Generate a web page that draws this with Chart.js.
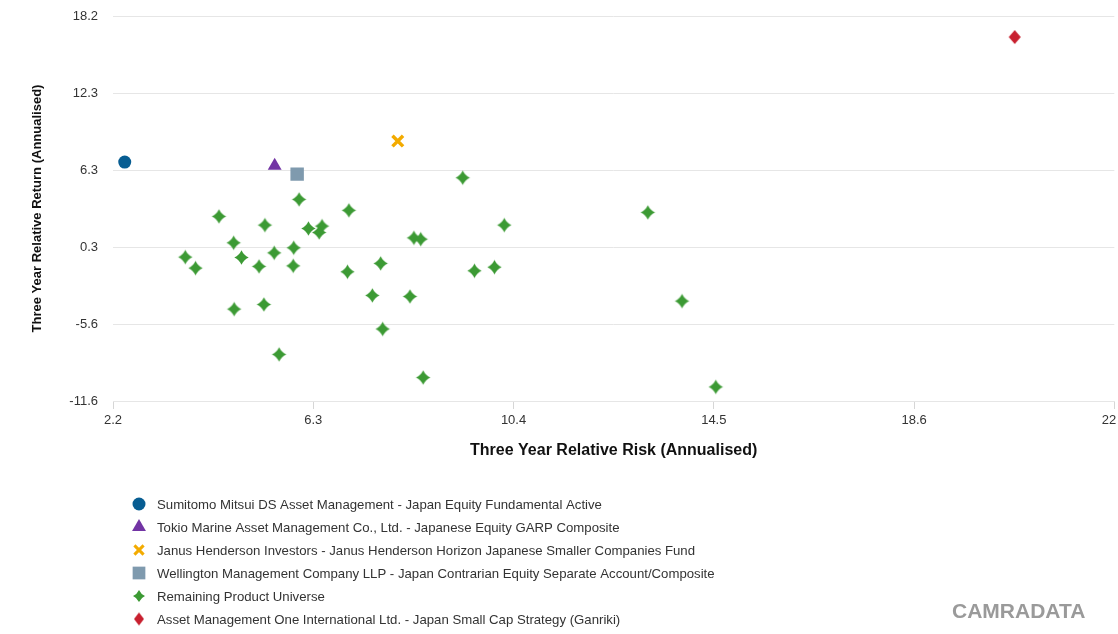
<!DOCTYPE html>
<html>
<head>
<meta charset="utf-8">
<title>Three Year Relative Risk vs Return</title>
<script src="https://cdn.jsdelivr.net/npm/chart.js@4.4.1/dist/chart.umd.min.js"></script>
<style>
  html, body { margin: 0; padding: 0; background: #fff; overflow: hidden; }
  #wrap { position: relative; width: 1116px; height: 634px; overflow: hidden; }
  #brand {
    position: absolute; left: 952px; top: 600px;
    font: bold 21px 'Liberation Sans', Arial, sans-serif; line-height: 21px;
    color: #9a9a9a;
  }
</style>
</head>
<body>
<div id="wrap">
  <canvas id="chart" width="1131" height="634"></canvas>
  <div id="brand">CAMRADATA</div>
</div>
<script>
'use strict';

//Axis ticks
let xTicks = [2.2, 6.3, 10.4, 14.5, 18.6, 22.7];
let yTicks = [-11.6, -5.634, 0.332, 6.298, 12.264, 18.23];

//Series names
let names = [
  'Sumitomo Mitsui DS Asset Management - Japan Equity Fundamental Active',
  'Tokio Marine Asset Management Co., Ltd. - Japanese Equity GARP Composite',
  'Janus Henderson Investors - Janus Henderson Horizon Japanese Smaller Companies Fund',
  'Wellington Management Company LLP - Japan Contrarian Equity Separate Account/Composite',
  'Remaining Product Universe',
  'Asset Management One International Ltd. - Japan Small Cap Strategy (Ganriki)'
];

//Single products: [risk, return]
let sumitomo = [[2.44, 6.91]];
let tokio = [[5.51, 6.63]];
let janus = [[8.03, 8.54]];
let wellington = [[5.97, 5.98]];
let amOne = [[20.66, 16.6]];

//Remaining universe
let universeRisk = [6.01, 4.37, 7.03, 5.31, 6.20, 6.48, 6.42, 4.67, 5.90, 5.50, 3.68,
  4.83, 3.89, 5.19, 5.89, 7.00, 7.68, 7.51, 5.29, 4.68, 7.72, 5.60, 9.36, 13.15,
  10.21, 8.36, 8.50, 9.60, 10.01, 8.28, 13.85, 8.55, 14.54];
let universeReturn = [4.02, 2.70, 3.17, 2.03, 1.77, 1.95, 1.46, 0.66, 0.27, -0.12, -0.45,
  -0.48, -1.30, -1.17, -1.13, -1.59, -0.94, -3.42, -4.12, -4.48, -6.02, -7.99, 5.70, 3.01,
  2.03, 1.04, 0.94, -1.51, -1.23, -3.50, -3.86, -9.78, -10.51];

//Helper to turn pairs into points
function toPoints(pairs) {
  return pairs.map(p => ({ x: p[0], y: p[1] }));
}

let universe = [];
for (let i = 0; i < universeRisk.length; i++) {
  universe.push({ x: universeRisk[i], y: universeReturn[i] });
}

//Custom marker: four point star with curved sides
function makeStar(color, r) {
  let size = Math.ceil(r * 2 + 2);
  let c = document.createElement('canvas');
  c.width = size;
  c.height = size;
  let g = c.getContext('2d');
  g.fillStyle = color;
  let cx = size / 2, cy = size / 2, k = r * 0.31;
  g.beginPath();
  g.moveTo(cx, cy - r);
  g.quadraticCurveTo(cx + k, cy - k, cx + r, cy);
  g.quadraticCurveTo(cx + k, cy + k, cx, cy + r);
  g.quadraticCurveTo(cx - k, cy + k, cx - r, cy);
  g.quadraticCurveTo(cx - k, cy - k, cx, cy - r);
  g.closePath();
  g.fill();
  return c;
}

//Custom marker: tall diamond
function makeDiamond(color, w, h) {
  let c = document.createElement('canvas');
  c.width = w + 2;
  c.height = h + 2;
  let g = c.getContext('2d');
  g.fillStyle = color;
  g.beginPath();
  g.moveTo(1 + w / 2, 1);
  g.lineTo(1 + w, 1 + h / 2);
  g.lineTo(1 + w / 2, 1 + h);
  g.lineTo(1, 1 + h / 2);
  g.closePath();
  g.fill();
  return c;
}

let starImg = makeStar('#3c9a34', 7.2);
let starLegend = makeStar('#3c9a34', 6);
let diamondImg = makeDiamond('#c8202f', 12, 14);
let diamondLegend = makeDiamond('#c8202f', 10, 13);

Chart.defaults.font.family = "'Liberation Sans', Arial, sans-serif";
Chart.defaults.color = '#333';

//Legend drawn as one item per row under the plot
const rowLegend = {
  id: 'rowLegend',
  afterDraw(chart) {
    const ctx = chart.ctx;
    ctx.save();
    ctx.font = "13.2px 'Liberation Sans', Arial, sans-serif";
    ctx.textBaseline = 'middle';
    chart.data.datasets.forEach((ds, i) => {
      let y = 504 + i * 23;
      let opts = {
        pointStyle: ds.legendStyle || ds.pointStyle,
        radius: ds.legendRadius,
        rotation: 0,
        borderWidth: ds.legendBorder || 0
      };
      ctx.fillStyle = ds.backgroundColor;
      ctx.strokeStyle = ds.borderColor;
      ctx.lineWidth = ds.legendBorder || 0;
      Chart.helpers.drawPoint(ctx, opts, 139, y);
      ctx.fillStyle = '#333';
      ctx.fillText(ds.label, 157, y + 1);
    });
    ctx.restore();
  }
};

let ctx = document.getElementById('chart').getContext('2d');

const chart = new Chart(ctx, {
  type: 'scatter',
  data: {
    datasets: [{
      label: names[0],
      data: toPoints(sumitomo),
      pointStyle: 'circle',
      pointRadius: 6.5,
      legendRadius: 6.5,
      backgroundColor: '#075d92',
      borderColor: '#075d92',
      borderWidth: 0
    },
    {
      label: names[1],
      data: toPoints(tokio),
      pointStyle: 'triangle',
      pointRadius: 8,
      legendRadius: 8,
      backgroundColor: '#7234a4',
      borderColor: '#7234a4',
      borderWidth: 0
    },
    {
      label: names[2],
      data: toPoints(janus),
      pointStyle: 'crossRot',
      pointRadius: 7.5,
      legendRadius: 6.5,
      legendBorder: 3,
      backgroundColor: '#f3ab00',
      borderColor: '#f3ab00',
      borderWidth: 3.5
    },
    {
      label: names[3],
      data: toPoints(wellington),
      pointStyle: 'rect',
      pointRadius: 9.5,
      legendRadius: 9,
      backgroundColor: '#7f9aae',
      borderColor: '#7f9aae',
      borderWidth: 0
    },
    {
      label: names[4],
      data: universe,
      pointStyle: starImg,
      legendStyle: starLegend,
      pointRadius: 8,
      legendRadius: 6,
      backgroundColor: '#3c9a34',
      borderColor: '#3c9a34',
      borderWidth: 0
    },
    {
      label: names[5],
      data: toPoints(amOne),
      pointStyle: diamondImg,
      legendStyle: diamondLegend,
      pointRadius: 8,
      legendRadius: 6,
      backgroundColor: '#c8202f',
      borderColor: '#c8202f',
      borderWidth: 0
    }]
  },
  options: {
    responsive: false,
    animation: false,
    layout: {
      padding: { top: 16, right: 0, bottom: 173, left: 0 }
    },
    plugins: {
      legend: { display: false },
      tooltip: { enabled: false }
    },
    scales: {
      x: {
        type: 'linear',
        min: 2.2,
        max: 22.7,
        afterBuildTicks: (scale) => {
          scale.ticks = xTicks.map(v => ({ value: v }));
        },
        afterFit: (scale) => {
          scale.height = 60;
        },
        ticks: {
          padding: 4,
          font: { size: 13 },
          color: '#333',
          callback: (v) => v.toFixed(1)
        },
        grid: {
          drawOnChartArea: false,
          tickLength: 8,
          color: '#d6d6d6'
        },
        border: { color: '#e6e6e6' },
        title: {
          display: true,
          text: 'Three Year Relative Risk (Annualised)',
          font: { size: 16, weight: 'bold' },
          color: '#111',
          padding: { top: 8, bottom: 1 }
        }
      },
      y: {
        type: 'linear',
        min: -11.6,
        max: 18.23,
        afterBuildTicks: (scale) => {
          scale.ticks = yTicks.map(v => ({ value: v }));
        },
        afterFit: (scale) => {
          scale.width = 113;
        },
        ticks: {
          padding: 3,
          font: { size: 13 },
          color: '#333',
          callback: (v) => v.toFixed(1)
        },
        grid: {
          drawTicks: true,
          tickLength: 12,
          tickColor: 'rgba(0,0,0,0)',
          color: '#e6e6e6'
        },
        border: { display: false },
        title: {
          display: true,
          text: 'Three Year Relative Return (Annualised)',
          font: { size: 13, weight: 'bold' },
          color: '#111',
          padding: { top: 30, bottom: 0 }
        }
      }
    }
  },
  plugins: [rowLegend]
});
</script>
</body>
</html>
